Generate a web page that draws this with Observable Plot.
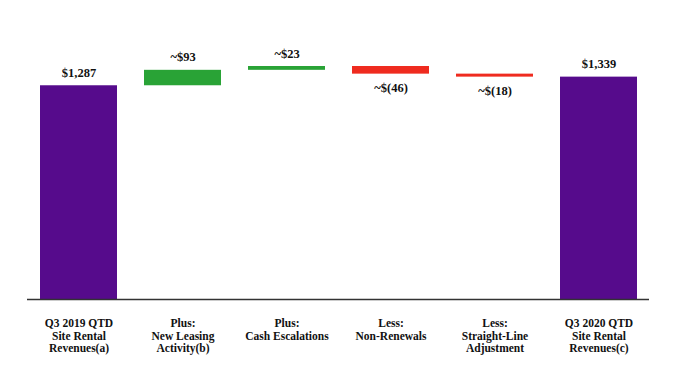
<!DOCTYPE html>
<html>
<head>
<meta charset="utf-8">
<script src="https://cdn.jsdelivr.net/npm/d3@7"></script>
<script src="https://cdn.jsdelivr.net/npm/@observablehq/plot@0.6"></script>
<style>
  html, body { margin: 0; padding: 0; background: #fff; }
  #chart svg { display: block; }
</style>
</head>
<body>
<div id="chart"></div>
<script>
// Data
const categories = ["Q3 2019 QTD", "New Leasing", "Cash Escalations", "Non-Renewals", "Straight-Line", "Q3 2020 QTD"];
const tickLabels = [
  "Q3 2019 QTD\nSite Rental\nRevenues(a)",
  "Plus:\nNew Leasing\nActivity(b)",
  "Plus:\nCash Escalations",
  "Less:\nNon-Renewals",
  "Less:\nStraight-Line\nAdjustment",
  "Q3 2020 QTD\nSite Rental\nRevenues(c)"
];
const values = [1287, 93, 23, -46, -18, 1339];
const kinds = ["total", "increase", "increase", "decrease", "decrease", "total"];
const valueLabels = ["$1,287", "~$93", "~$23", "~$(46)", "~$(18)", "$1,339"];

// Build waterfall rows
let running = 0;
const rows = categories.map((c, i) => {
  let y1, y2;
  if (kinds[i] === "total") { y1 = 0; y2 = values[i]; running = values[i]; }
  else { y1 = running; y2 = running + values[i]; running = y2; }
  return { cat: c, y1, y2, lo: Math.min(y1, y2), hi: Math.max(y1, y2), kind: kinds[i], label: valueLabels[i], neg: values[i] < 0 };
});

const font = "Liberation Serif";

const chart = Plot.plot({
  width: 682,
  height: 380,
  marginTop: 20,
  marginBottom: 81,
  marginLeft: 27,
  marginRight: 33,
  style: { fontFamily: font, background: "#fff" },
  x: { domain: categories, paddingInner: 0.26, paddingOuter: 0.12, label: null },
  y: { domain: [0, 1680], axis: null },
  color: { domain: ["total", "increase", "decrease"], range: ["#560b8c", "#29a336", "#ef2b1f"] },
  marks: [
    Plot.barY(rows, { x: "cat", y1: "y1", y2: "y2", fill: "kind" }),
    Plot.ruleY([0], { stroke: "#333", strokeWidth: 1.3 }),
    Plot.axisX({
      tickSize: 5,
      tickPadding: 14,
      tickFormat: (d) => tickLabels[categories.indexOf(d)],
      fontSize: 11.5,
      fontWeight: "bold",
      fontFamily: font,
      lineHeight: 1.09,
      fill: "#111",
      stroke: null
    }),
    Plot.text(rows.filter(d => !d.neg), {
      x: "cat", y: "hi", text: "label", dy: -13,
      fontSize: 12.5, fontWeight: "bold", fill: "#111", fontFamily: font
    }),
    Plot.text(rows.filter(d => d.neg), {
      x: "cat", y: "lo", text: "label", dy: 14,
      fontSize: 12.5, fontWeight: "bold", fill: "#111", fontFamily: font
    })
  ]
});
document.getElementById("chart").append(chart);
</script>
</body>
</html>
